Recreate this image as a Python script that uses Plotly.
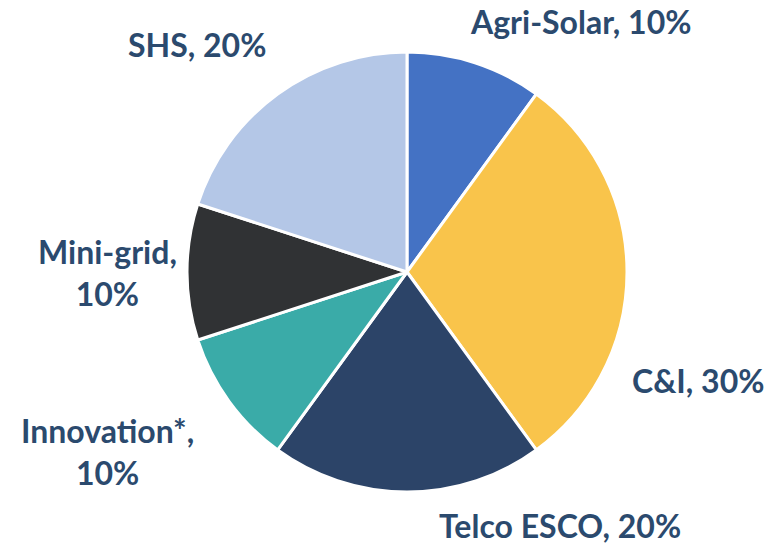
import plotly.graph_objects as go

categories = ["Agri-Solar", "C&I", "Telco ESCO", "Innovation*", "Mini-grid", "SHS"]
values = [10, 30, 20, 10, 10, 20]
colors = ["#4472C4", "#F9C44B", "#2C4468", "#3AABA8", "#303234", "#B4C7E7"]
# label text layout (line breaks) and placement in paper coords
label_breaks = [" ", " ", " ", "<br>", "<br>", " "]
label_pos = [(580, 22), (698, 380), (560, 525), (107, 451), (107, 272), (197, 45)]

W, H = 766, 547
fig = go.Figure()
fig.add_trace(go.Pie(
    labels=categories,
    values=values,
    sort=False,
    direction="clockwise",
    rotation=0,
    marker=dict(colors=colors, line=dict(color="white", width=3)),
    textinfo="none",
    hoverinfo="label+percent",
    showlegend=False,
    domain=dict(x=[(407 - 220) / W, (407 + 220) / W], y=[1 - 492 / H, 1 - 52 / H]),
))

total = sum(values)
for cat, v, br, (px, py) in zip(categories, values, label_breaks, label_pos):
    fig.add_annotation(
        x=px / W, y=1 - py / H, xref="paper", yref="paper",
        text=f"{cat},{br}{round(100 * v / total)}%",
        showarrow=False, align="center",
        font=dict(family="Lato", size=32, color="#2B4A6E", weight="bold"),
        xanchor="center", yanchor="middle",
    )

fig.update_layout(
    width=W, height=H,
    margin=dict(l=0, r=0, t=0, b=0),
    paper_bgcolor="white", plot_bgcolor="white",
)
fig.write_html("out.html", config={"displayModeBar": False},
               post_script="document.body.style.margin='0';")
